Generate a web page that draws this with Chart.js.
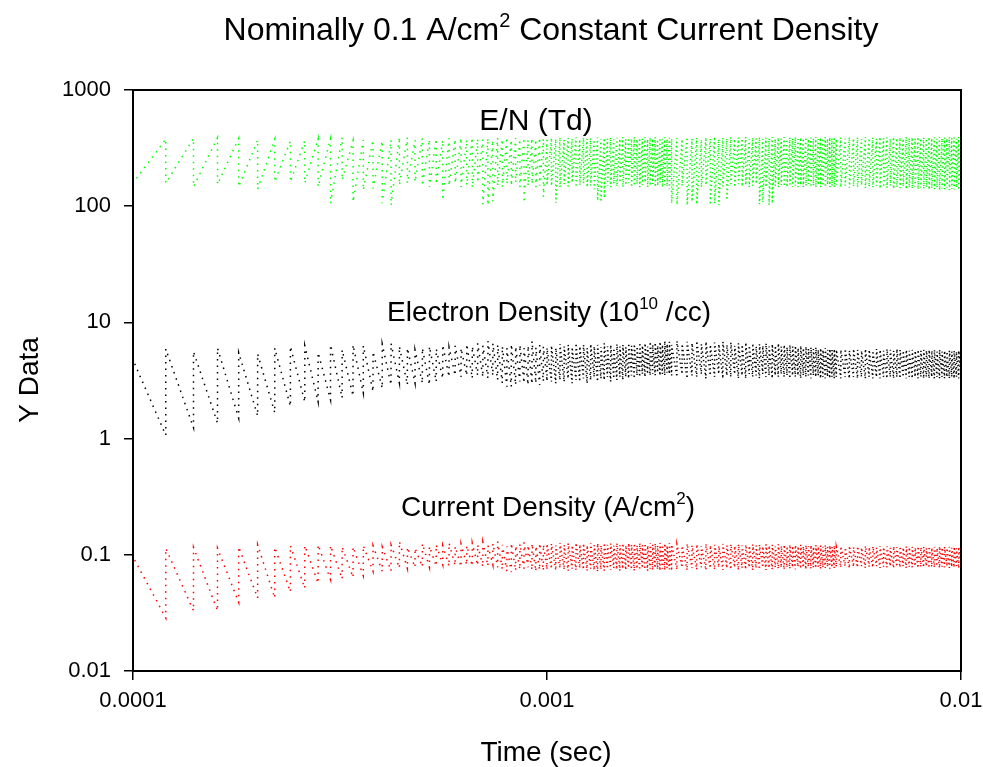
<!DOCTYPE html>
<html><head><meta charset="utf-8">
<script src="https://cdn.jsdelivr.net/npm/chart.js@4.4.1/dist/chart.umd.min.js"></script>
<style>html,body{margin:0;padding:0;background:#fff;}#wrap{width:983px;height:767px;}</style>
</head><body><div id="wrap"><canvas id="c" width="983" height="767"></canvas></div>
<script>
const xTickValues = [1e-4, 1e-3, 1e-2];
const xTickLabels = ['0.0001', '0.001', '0.01'];
const yTickValues = [0.01, 0.1, 1, 10, 100, 1000];
const yTickLabels = ['0.01', '0.1', '1', '10', '100', '1000'];

// pulse times (ms)
const timeMs = [
 0.10,0.12,0.14,0.16,0.18,0.20,0.22,0.24,0.26,0.28,0.30,0.32,0.34,0.36,0.38,0.40,0.42,0.44,0.46,0.48,
 0.50,0.52,0.54,0.56,0.58,0.60,0.62,0.64,0.66,0.68,0.70,0.72,0.74,0.76,0.78,0.80,0.82,0.84,0.86,0.88,0.90,0.92,0.94,0.96,0.98,1.00,
 1.025,1.05,1.075,1.1,1.125,1.15,1.175,1.2,1.225,1.25,1.275,1.3,1.325,1.35,1.375,1.4,1.425,1.45,1.475,1.5,
 1.525,1.55,1.575,1.6,1.625,1.65,1.675,1.7,1.725,1.75,1.775,1.8,1.825,1.85,1.875,1.9,1.925,1.95,1.975,2.0,
 2.06,2.12,2.18,2.24,2.3,2.36,2.42,2.48,2.54,2.6,2.66,2.72,2.78,2.84,2.9,2.96,3.02,3.08,3.14,3.2,
 3.26,3.32,3.38,3.44,3.5,3.56,3.62,3.68,3.74,3.8,3.86,3.92,3.98,4.04,4.1,4.16,4.22,4.28,4.34,4.4,
 4.46,4.52,4.58,4.64,4.7,4.76,4.82,4.88,4.94,5.0,
 5.125,5.25,5.375,5.5,5.625,5.75,5.875,6.0,6.125,6.25,6.375,6.5,6.625,6.75,6.875,7.0,7.125,7.25,7.375,7.5,
 7.625,7.75,7.875,8.0,8.125,8.25,8.375,8.5,8.625,8.75,8.875,9.0,9.125,9.25,9.375,9.5,9.625,9.75,9.875,10.0
];

// E/N (Td): value just before each pulse (top) and just after (bottom)
const enTop = [
 394,378,383,388,383,371,377,364,366,381,381,391,366,371,371,364,371,391,391,371,
 385,375,380,370,385,378,386,372,390,380,375,385,370,388,378,392,372,385,378,388,372,385,376,390,380,372,
 385,378,390,372,386,380,392,375,388,380,385,372,390,378,386,380,392,375,388,380,
 393,376,387,380,394,376,386,381,392,377,388,380,393,376,387,381,392,378,388,380,
 385,376,392,380,388,374,390,381,395,377,388,382,393,378,390,381,394,377,389,382,
 393,379,390,383,394,378,389,381,393,377,390,382,394,378,389,383,393,378,390,382,
 394,378,389,384,393,379,390,383,394,378,
 390,380,394,383,391,379,394,384,390,380,394,385,391,381,394,384,390,381,394,385,
 391,380,394,384,390,382,394,385,391,381,394,384,390,382,394,385,391,381,394,384
];
const enBottom = [
 158,158,147,154,147,140,162,162,158,147,106,168,109,138,142,106,102,152,158,162,
 150,146,155,113,150,158,146,152,145,160,104,102,110,150,146,155,150,160,146,107,150,155,146,150,120,152,
 150,107,146,155,148,160,146,152,158,146,150,140,112,109,118,150,146,156,148,160,
 146,152,158,146,150,155,146,152,160,146,150,155,146,150,160,146,152,148,140,106,
 104,150,102,110,104,146,152,103,106,102,148,113,150,146,155,148,152,146,150,156,
 104,108,146,103,106,150,146,152,148,146,154,146,150,146,152,146,150,155,146,150,
 146,152,146,150,146,153,146,150,146,152,
 146,150,144,148,146,152,143,147,145,150,142,146,144,150,141,146,143,148,140,145,
 142,147,140,144,141,146,139,143,140,145,138,142,140,145,138,141,139,144,138,141
];

// Electron density (1e10 /cc): bottom before pulse, top after pulse
const neBottom = [
 1.1,1.07,1.24,1.36,1.5,1.57,1.67,1.9,2.07,2.07,2.15,2.24,2.33,2.47,2.54,2.72,2.9,3.0,2.9,3.0,
 3.0,2.9,3.1,3.3,3.4,3.5,3.4,3.5,3.3,3.5,3.4,3.3,3.5,3.2,3.0,2.8,2.8,2.9,3.1,3.0,2.9,2.95,3.0,2.9,3.1,3.2,
 3.1,3.0,3.2,3.1,3.3,3.0,3.2,3.1,3.3,3.0,3.2,3.4,3.1,3.3,3.2,3.4,3.1,3.3,3.2,3.4,
 3.2,3.4,3.3,3.5,3.3,3.5,3.4,3.6,3.4,3.6,3.5,3.6,3.5,3.7,3.5,3.6,3.5,3.7,3.6,3.5,
 3.4,3.6,3.3,3.5,3.4,3.6,3.3,3.5,3.4,3.6,3.3,3.5,3.4,3.6,3.3,3.5,3.3,3.6,3.4,3.5,
 3.3,3.6,3.4,3.5,3.3,3.5,3.4,3.6,3.4,3.5,3.3,3.5,3.4,3.5,3.3,3.5,3.4,3.5,3.3,3.5,
 3.4,3.5,3.3,3.4,3.3,3.4,3.3,3.4,3.3,3.4,
 3.3,3.4,3.3,3.4,3.3,3.4,3.3,3.4,3.3,3.4,3.3,3.4,3.3,3.4,3.3,3.4,3.3,3.4,3.3,3.4,
 3.3,3.4,3.3,3.4,3.3,3.4,3.3,3.4,3.3,3.4,3.3,3.4,3.3,3.4,3.3,3.4,3.3,3.4,3.3,3.4
];
const neTop = [
 4.75,5.9,5.6,6.0,5.5,5.35,6.0,6.2,6.3,5.5,6.4,5.8,6.4,6.3,5.6,6.5,6.6,6.2,6.0,5.8,
 6.0,6.2,5.9,6.4,6.1,6.3,6.0,6.5,6.2,6.6,6.3,6.9,6.6,6.4,6.2,6.0,6.5,6.2,6.4,6.0,6.3,6.9,6.1,6.4,6.2,6.0,
 6.3,6.0,6.5,6.2,6.4,6.1,6.6,6.2,6.4,6.0,6.5,6.2,6.4,6.1,6.6,6.2,6.4,6.0,6.5,6.2,
 6.4,6.1,6.6,6.3,6.5,6.2,6.7,6.3,6.6,6.2,6.8,6.4,6.7,6.3,6.8,6.4,6.9,6.5,6.8,6.4,
 6.9,6.5,6.8,6.6,6.9,6.5,6.8,6.4,6.7,6.5,6.8,6.4,6.7,6.3,6.6,6.4,6.7,6.3,6.6,6.2,
 6.5,6.3,6.6,6.2,6.5,6.3,6.6,6.2,6.4,6.1,6.4,6.2,6.3,6.0,6.3,6.0,6.2,5.9,6.1,5.9,
 6.1,5.8,6.0,5.8,6.0,5.8,5.9,5.8,5.9,5.8,
 5.8,5.9,5.7,5.9,5.8,5.7,5.9,5.8,5.7,5.9,5.8,5.7,5.9,5.8,5.7,5.9,5.8,5.7,5.8,5.7,
 5.8,5.7,5.8,5.7,5.8,5.7,5.8,5.7,5.8,5.6,5.8,5.6,5.7,5.6,5.7,5.6,5.7,5.6,5.7,5.6
];

// Current density (A/cm2): bottom before pulse, top after pulse
const jBottom = [
 0.025,0.0286,0.033,0.033,0.039,0.0425,0.0425,0.048,0.0515,0.057,0.061,0.062,0.064,0.066,0.072,0.072,0.0725,0.077,0.076,0.078,
 0.079,0.078,0.080,0.082,0.080,0.081,0.079,0.082,0.080,0.081,0.079,0.080,0.082,0.078,0.075,0.072,0.071,0.073,0.075,0.076,0.078,0.074,0.072,0.074,0.073,0.076,
 0.076,0.074,0.077,0.075,0.073,0.076,0.074,0.077,0.075,0.073,0.076,0.074,0.072,0.075,0.073,0.076,0.074,0.077,0.075,0.073,
 0.076,0.074,0.077,0.075,0.073,0.076,0.074,0.077,0.075,0.073,0.076,0.074,0.077,0.075,0.073,0.076,0.074,0.077,0.075,0.073,
 0.075,0.078,0.074,0.077,0.075,0.078,0.074,0.077,0.075,0.078,0.074,0.077,0.075,0.078,0.074,0.077,0.075,0.078,0.074,0.077,
 0.075,0.078,0.074,0.077,0.075,0.078,0.076,0.078,0.075,0.078,0.076,0.078,0.075,0.079,0.076,0.078,0.075,0.079,0.076,0.078,
 0.077,0.079,0.076,0.078,0.077,0.079,0.076,0.078,0.077,0.079,
 0.078,0.080,0.077,0.079,0.078,0.080,0.077,0.079,0.078,0.080,0.077,0.079,0.078,0.080,0.077,0.079,0.078,0.080,0.077,0.079,
 0.078,0.080,0.077,0.079,0.078,0.080,0.077,0.079,0.078,0.080,0.077,0.079,0.078,0.080,0.077,0.079,0.078,0.080,0.077,0.079
];
const jTop = [
 0.096,0.1135,0.116,0.114,0.117,0.122,0.116,0.12,0.12,0.122,0.12,0.117,0.117,0.12,0.12,0.117,0.122,0.13,0.116,0.114,
 0.125,0.118,0.122,0.120,0.126,0.118,0.124,0.120,0.126,0.122,0.128,0.120,0.125,0.130,0.122,0.118,0.126,0.120,0.124,0.128,0.121,0.125,0.119,0.126,0.122,0.124,
 0.124,0.120,0.126,0.121,0.125,0.120,0.126,0.122,0.125,0.120,0.126,0.121,0.125,0.120,0.126,0.122,0.125,0.120,0.126,0.121,
 0.125,0.120,0.126,0.122,0.125,0.120,0.126,0.121,0.125,0.120,0.126,0.122,0.125,0.120,0.126,0.121,0.125,0.120,0.126,0.122,
 0.123,0.119,0.124,0.120,0.123,0.119,0.124,0.120,0.122,0.119,0.124,0.120,0.123,0.119,0.123,0.120,0.122,0.119,0.123,0.120,
 0.122,0.118,0.123,0.120,0.122,0.118,0.123,0.119,0.122,0.118,0.122,0.119,0.121,0.118,0.122,0.118,0.121,0.118,0.121,0.117,
 0.121,0.118,0.120,0.117,0.121,0.117,0.120,0.117,0.120,0.117,
 0.118,0.115,0.119,0.116,0.118,0.115,0.119,0.116,0.118,0.115,0.119,0.116,0.118,0.115,0.118,0.116,0.118,0.115,0.118,0.116,
 0.117,0.115,0.118,0.116,0.117,0.114,0.118,0.115,0.117,0.114,0.118,0.115,0.117,0.114,0.117,0.115,0.117,0.114,0.117,0.115
];

const FONT = '"Liberation Sans", Arial, sans-serif';

function pulseLine(first, second) {
  const n = Math.min(timeMs.length, first.length, second.length);
  const pts = [];
  for (let i = 0; i < n; i++) {
    const t = timeMs[i] * 1e-3;
    pts.push({x: t, y: first[i]});
    pts.push({x: t, y: second[i]});
  }
  return pts;
}

const dashFn = ctx => (ctx.p0.parsed.x >= 1e-3 ? [1.3, 3] : [1.5, 5]);

function mkSet(data, color) {
  return {
    data, borderColor: color, backgroundColor: color, borderWidth: 1.5,
    pointRadius: 0, tension: 0, fill: false, borderDash: [1.5, 5],
    segment: {borderDash: dashFn}
  };
}

function rich(ctx, parts, cx, y, size) {
  const ws = [];
  let total = 0;
  parts.forEach(p => {
    ctx.font = (p.sup ? Math.round(size * 0.62) : size) + 'px ' + FONT;
    const w = ctx.measureText(p.t).width; ws.push(w); total += w;
  });
  let x = cx - total / 2;
  parts.forEach((p, i) => {
    ctx.font = (p.sup ? Math.round(size * 0.62) : size) + 'px ' + FONT;
    ctx.fillText(p.t, x, p.sup ? y - size * 0.42 : y);
    x += ws[i];
  });
}

const decor = {
  id: 'decor',
  afterDraw(chart) {
    const ctx = chart.ctx, a = chart.chartArea;
    ctx.save();
    ctx.strokeStyle = '#000'; ctx.lineWidth = 2;
    ctx.strokeRect(a.left, a.top, a.right - a.left, a.bottom - a.top);
    ctx.fillStyle = '#000'; ctx.textAlign = 'left'; ctx.textBaseline = 'alphabetic';
    rich(ctx, [{t: 'Nominally 0.1 A/cm'}, {t: '2', sup: true}, {t: ' Constant Current Density'}], 551, 40, 32);
    rich(ctx, [{t: 'E/N (Td)'}], 536, 130, 30);
    rich(ctx, [{t: 'Electron Density (10'}, {t: '10', sup: true}, {t: ' /cc)'}], 549, 321, 28);
    rich(ctx, [{t: 'Current Density (A/cm'}, {t: '2', sup: true}, {t: ')'}], 548, 516, 28);
    rich(ctx, [{t: 'Time (sec)'}], 546, 761, 28);
    ctx.save();
    ctx.translate(38, 380); ctx.rotate(-Math.PI / 2);
    rich(ctx, [{t: 'Y Data'}], 0, 0, 28);
    ctx.restore();
    ctx.restore();
  }
};

new Chart(document.getElementById('c'), {
  type: 'line',
  data: {
    datasets: [
      mkSet(pulseLine(enTop, enBottom), '#00ff00'),
      mkSet(pulseLine(neBottom, neTop), '#000000'),
      mkSet(pulseLine(jBottom, jTop), '#ff0000')
    ]
  },
  options: {
    responsive: false, animation: false, devicePixelRatio: 1,
    layout: {padding: {left: 0, top: 90, right: 22, bottom: 0}},
    plugins: {legend: {display: false}, tooltip: {enabled: false}, title: {display: false}},
    scales: {
      x: {
        type: 'logarithmic', min: 1e-4, max: 1e-2,
        afterBuildTicks: s => { s.ticks = xTickValues.map(v => ({value: v})); },
        afterFit: s => { s.height = 96; s.paddingLeft = 0; s.paddingRight = 0; },
        ticks: {
          autoSkip: false, maxRotation: 0, color: '#000', padding: 8,
          font: {family: FONT, size: 22},
          callback: (v) => { const i = xTickValues.findIndex(t => Math.abs(t - v) / t < 1e-6); return i >= 0 ? xTickLabels[i] : ''; }
        },
        grid: {drawOnChartArea: false, drawTicks: true, tickLength: 9, color: '#000', lineWidth: 1.5},
        border: {display: false}
      },
      y: {
        type: 'logarithmic', min: 0.01, max: 1000,
        afterBuildTicks: s => { s.ticks = yTickValues.map(v => ({value: v})); },
        afterFit: s => { s.width = 133; s.paddingTop = 0; s.paddingBottom = 0; },
        ticks: {
          autoSkip: false, color: '#000', padding: 13,
          font: {family: FONT, size: 22},
          callback: (v) => { const i = yTickValues.findIndex(t => Math.abs(t - v) / t < 1e-6); return i >= 0 ? yTickLabels[i] : ''; }
        },
        grid: {drawOnChartArea: false, drawTicks: true, tickLength: 9, color: '#000', lineWidth: 1.5},
        border: {display: false}
      }
    }
  },
  plugins: [decor]
});
</script>
</body></html>
